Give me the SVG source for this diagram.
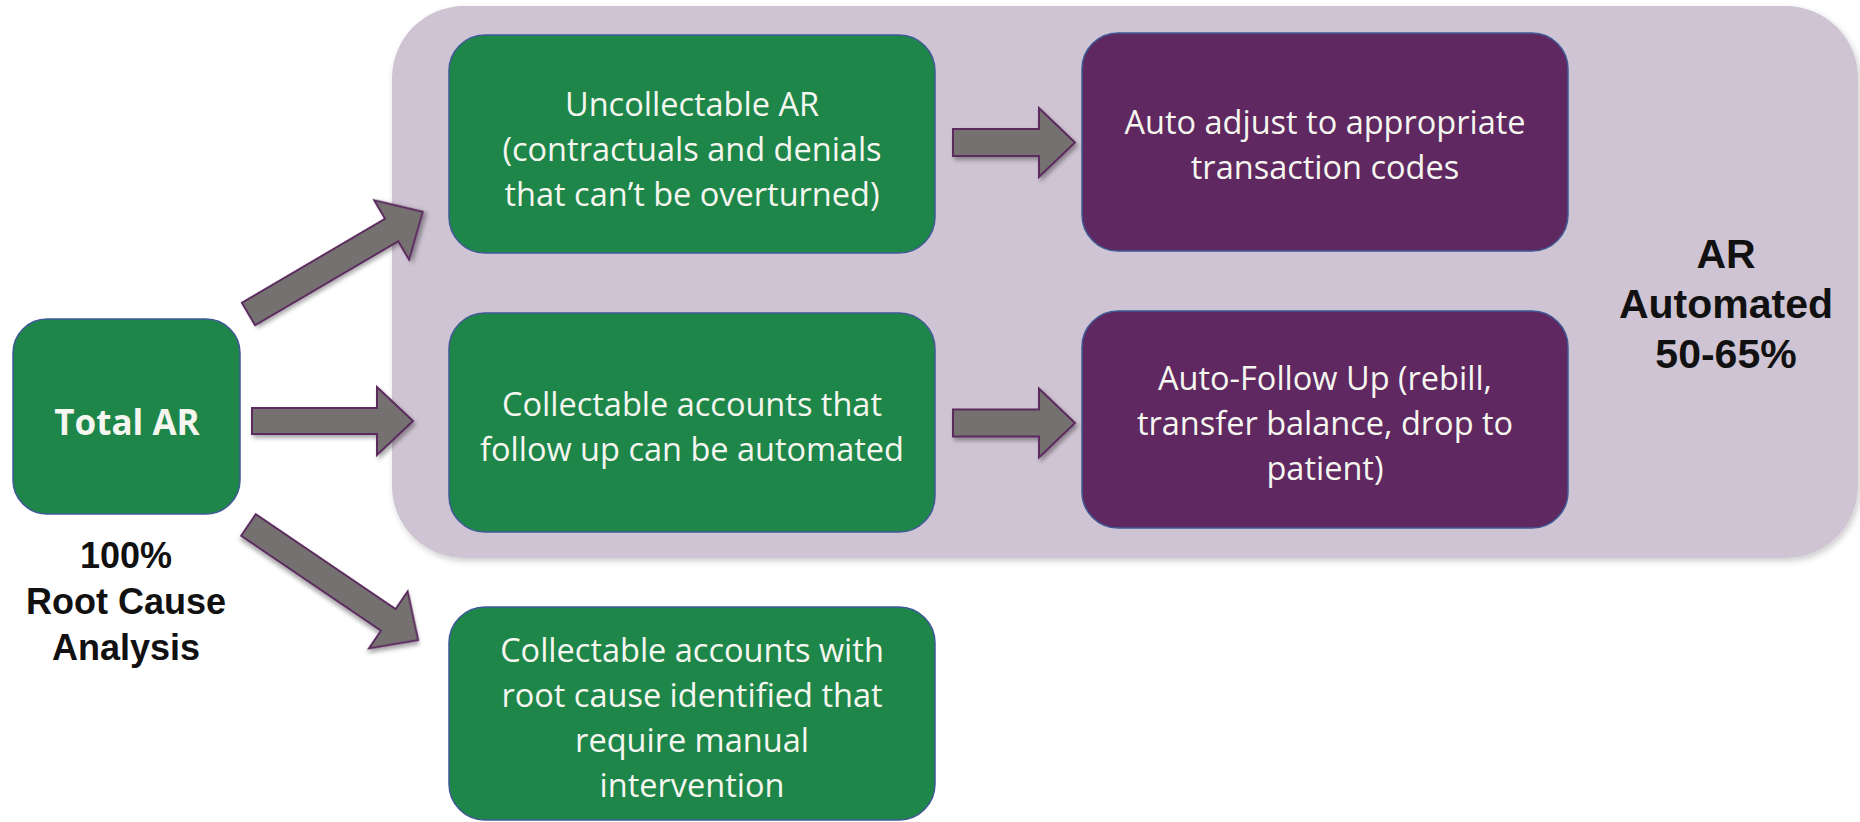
<svg xmlns="http://www.w3.org/2000/svg" width="1860" height="822" viewBox="0 0 1860 822">
  <style>
    .green { fill: #1e8649; stroke: #3f5a96; stroke-width: 1.5; }
    .purple { fill: #5f2860; stroke: #3f5a96; stroke-width: 1.5; }
    .boxtext { font-family: "Open Sans", "Noto Sans", sans-serif; font-size: 32.5px; fill: #f6f6f0; text-anchor: middle; }
    .bold { font-weight: bold; font-size: 35px; }
    .label { font-family: "Liberation Sans", Arial, sans-serif; font-weight: bold; fill: #111111; text-anchor: middle; }
    .arrow { fill: #767171; stroke: #5c2a5e; stroke-width: 2; filter: url(#ashadow); }
  </style>
  <defs>
    <filter id="ashadow" x="-20%" y="-30%" width="140%" height="160%">
      <feDropShadow dx="2" dy="3" stdDeviation="2" flood-color="#000000" flood-opacity="0.35"/>
    </filter>
    <filter id="cshadow" x="-5%" y="-5%" width="110%" height="112%">
      <feDropShadow dx="2" dy="3" stdDeviation="3" flood-color="#000000" flood-opacity="0.2"/>
    </filter>
  </defs>
  <rect width="1860" height="822" fill="#ffffff"/>

  <g id="automated-area">
    <rect x="392" y="6" width="1466" height="552" rx="72" ry="72" fill="#cfc4d3" filter="url(#cshadow)"/>
    <text class="label" font-size="41" x="1726" y="268">AR</text>
    <text class="label" font-size="41" x="1726" y="318">Automated</text>
    <text class="label" font-size="41" x="1726" y="368">50-65%</text>
  </g>

  <g id="connectors">
    <path class="arrow" transform="translate(248.5,314) rotate(-30.4)" d="M0,-13 H166 V-34.5 L202,0 L166,34.5 V13 H0 Z"/>
    <path class="arrow" transform="translate(252,421)" d="M0,-13 H125 V-34 L161,0 L125,34 V13 H0 Z"/>
    <path class="arrow" transform="translate(248.5,525) rotate(34.16)" d="M0,-13 H169 V-34.5 L205,0 L169,34.5 V13 H0 Z"/>
    <path class="arrow" transform="translate(953,142.5)" d="M0,-13.5 H86 V-34.5 L122,0 L86,34.5 V13.5 H0 Z"/>
    <path class="arrow" transform="translate(953,423)" d="M0,-13.5 H86 V-34.5 L122,0 L86,34.5 V13.5 H0 Z"/>
  </g>

  <g id="total-ar">
    <rect class="green" x="13" y="319" width="227" height="195" rx="34"/>
    <text class="boxtext bold" x="127" y="435">Total AR</text>
  </g>

  <g id="root-cause-label">
    <text class="label" font-size="36" x="126" y="568">100%</text>
    <text class="label" font-size="36" x="126" y="614">Root Cause</text>
    <text class="label" font-size="36" x="126" y="660">Analysis</text>
  </g>

  <g id="uncollectable">
    <rect class="green" x="449" y="35" width="486" height="218" rx="36"/>
    <text class="boxtext" x="692" y="116">Uncollectable AR</text>
    <text class="boxtext" x="692" y="161">(contractuals and denials</text>
    <text class="boxtext" x="692" y="206">that can’t be overturned)</text>
  </g>

  <g id="auto-adjust">
    <rect class="purple" x="1082" y="33" width="486" height="218" rx="36"/>
    <text class="boxtext" x="1325" y="134">Auto adjust to appropriate</text>
    <text class="boxtext" x="1325" y="179">transaction codes</text>
  </g>

  <g id="collectable-automated">
    <rect class="green" x="449" y="313" width="486" height="219" rx="36"/>
    <text class="boxtext" x="692" y="416">Collectable accounts that</text>
    <text class="boxtext" x="692" y="461">follow up can be automated</text>
  </g>

  <g id="auto-follow-up">
    <rect class="purple" x="1082" y="311" width="486" height="217" rx="36"/>
    <text class="boxtext" x="1325" y="390">Auto-Follow Up (rebill,</text>
    <text class="boxtext" x="1325" y="435">transfer balance, drop to</text>
    <text class="boxtext" x="1325" y="480">patient)</text>
  </g>

  <g id="collectable-manual">
    <rect class="green" x="449" y="607" width="486" height="213" rx="36"/>
    <text class="boxtext" x="692" y="662">Collectable accounts with</text>
    <text class="boxtext" x="692" y="707">root cause identified that</text>
    <text class="boxtext" x="692" y="752">require manual</text>
    <text class="boxtext" x="692" y="797">intervention</text>
  </g>
</svg>
